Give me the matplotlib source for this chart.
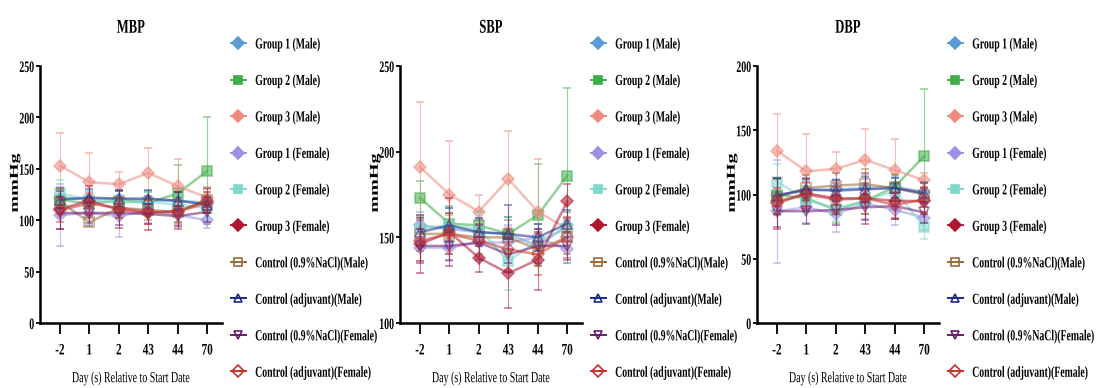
import matplotlib
matplotlib.use("Agg")
import matplotlib.pyplot as plt
from matplotlib.lines import Line2D
from matplotlib.patheffects import AbstractPathEffect
from matplotlib.transforms import Affine2D

plt.rcParams["font.family"] = ["Liberation Serif", "DejaVu Serif"]
plt.rcParams["font.weight"] = "bold"

DAYS = ["-2", "1", "2", "43", "44", "70"]

SERIES = [
    "Group 1 (Male)", "Group 2 (Male)", "Group 3 (Male)",
    "Group 1 (Female)", "Group 2 (Female)", "Group 3 (Female)",
    "Control (0.9%NaCl)(Male)", "Control (adjuvant)(Male)",
    "Control (0.9%NaCl)(Female)", "Control (adjuvant)(Female)",
]

# mean values per series, one value per day
MBP_MEAN = [
    [122, 120, 121, 119, 119, 117],
    [120, 116, 119, 117, 126, 148],
    [153, 137, 135, 146, 133, 122],
    [105, 107, 104, 109, 105, 100],
    [126, 120, 117, 118, 115, 112],
    [111, 119, 110, 107, 109, 119],
    [118, 98, 112, 110, 108, 120],
    [120, 122, 121, 121, 119, 115],
    [107, 107, 107, 106, 104, 108],
    [110, 116, 112, 108, 108, 117],
]
MBP_SD = [
    [10, 8, 8, 9, 8, 10],
    [10, 9, 9, 10, 28, 52],
    [32, 28, 12, 24, 27, 10],
    [30, 12, 20, 12, 12, 8],
    [13, 8, 8, 10, 10, 10],
    [20, 14, 18, 17, 18, 12],
    [12, 4, 10, 10, 10, 10],
    [8, 8, 8, 8, 8, 8],
    [16, 10, 12, 10, 10, 10],
    [12, 10, 10, 12, 12, 10],
]

SBP_MEAN = [
    [157, 155, 153, 152, 145, 157],
    [173, 158, 157, 152, 163, 186],
    [191, 175, 165, 184, 165, 155],
    [144, 144, 147, 147, 150, 143],
    [155, 157, 155, 136, 148, 155],
    [146, 153, 138, 129, 137, 171],
    [152, 152, 150, 150, 143, 150],
    [153, 157, 153, 152, 150, 158],
    [145, 145, 147, 140, 145, 145],
    [148, 152, 148, 143, 140, 150],
]
SBP_SD = [
    [8, 8, 8, 10, 8, 8],
    [10, 10, 8, 10, 30, 51],
    [38, 31, 10, 28, 31, 10],
    [8, 8, 8, 10, 8, 8],
    [8, 10, 10, 17, 10, 10],
    [17, 20, 8, 20, 18, 10],
    [10, 12, 10, 10, 10, 10],
    [8, 10, 8, 17, 8, 8],
    [10, 8, 10, 10, 10, 8],
    [12, 12, 10, 12, 12, 12],
]

DBP_MEAN = [
    [100, 103, 104, 105, 106, 102],
    [100, 97, 88, 95, 106, 130],
    [134, 118, 120, 127, 119, 111],
    [87, 90, 85, 93, 88, 82],
    [110, 96, 89, 95, 103, 75],
    [93, 101, 97, 97, 95, 95],
    [98, 105, 107, 108, 105, 100],
    [99, 104, 103, 104, 105, 101],
    [87, 87, 88, 90, 91, 86],
    [95, 100, 96, 97, 92, 96],
]
DBP_SD = [
    [12, 8, 8, 10, 8, 8],
    [12, 10, 10, 10, 10, 52],
    [29, 29, 13, 24, 24, 6],
    [40, 12, 14, 12, 12, 10],
    [14, 10, 10, 10, 10, 10],
    [20, 12, 12, 20, 14, 10],
    [14, 10, 10, 12, 10, 10],
    [14, 8, 8, 10, 8, 8],
    [12, 10, 12, 10, 10, 8],
    [10, 10, 10, 12, 10, 10],
]

COLORS = ["#5b9bd5", "#3fae49", "#f08a80", "#9d8fe3", "#7fd8cc",
          "#b0172f", "#9a6a3a", "#1d2a8c", "#6a1a6e", "#c8332b"]
MARKERS = ["D", "s", "D", "D", "s", "D", "s", "^", "v", "D"]
FILLED = [True] * 6 + [False] * 4


class Condense(AbstractPathEffect):
    # squeeze glyphs, the reference uses a narrow bold serif
    def __init__(self, sx=0.65, anchor="left", sy=1.0):
        super().__init__()
        self.sx = sx
        self.sy = sy
        self.anchor = anchor

    def draw_path(self, renderer, gc, tpath, affine, rgbFace=None):
        v = tpath.vertices
        if len(v) == 0:
            return
        xs, ys = v[:, 0], v[:, 1]
        if self.anchor == "center":
            x0 = (xs.min() + xs.max()) / 2
        elif self.anchor == "right":
            x0 = xs.max()
        else:
            x0 = xs.min()
        y0 = (ys.min() + ys.max()) / 2
        t = (Affine2D().translate(-x0, -y0).scale(self.sx, self.sy)
             .translate(x0, y0) + affine)
        renderer.draw_path(gc, tpath, t, rgbFace)


panels = [
    ("MBP", MBP_MEAN, MBP_SD, (0, 250), [0, 50, 100, 150, 200, 250], 40),
    ("SBP", SBP_MEAN, SBP_SD, (100, 250), [100, 150, 200, 250], 400),
    ("DBP", DBP_MEAN, DBP_SD, (0, 200), [0, 50, 100, 150, 200], 757),
]

W, H = 1097, 388
fig = plt.figure(figsize=(W / 100, H / 100), dpi=100)

x = list(range(len(DAYS)))
for title, means, sds, ylim, yticks, left_px in panels:
    ax = fig.add_axes([left_px / W, 1 - 323 / H, 182 / W, (323 - 66) / H])
    for i in range(len(SERIES)):
        c = COLORS[i]
        ax.errorbar(x, means[i], yerr=sds[i], color=c, ecolor=c, elinewidth=0.8,
                    capsize=3, capthick=0.8, alpha=0.55, lw=1.8,
                    marker=MARKERS[i], ms=6.5,
                    mfc=c if FILLED[i] else "none", mec=c, mew=1.2, zorder=2 + i)
    ax.set_xlim(-0.68, 5.5)
    ax.set_ylim(*ylim)
    ax.set_yticks(yticks)
    ax.set_xticks(x)
    ax.set_xticklabels(DAYS)
    for s in ["top", "right"]:
        ax.spines[s].set_visible(False)
    for s in ["left", "bottom"]:
        ax.spines[s].set_linewidth(1.8)
    ax.tick_params(axis="x", width=1.3, length=8, pad=6, labelsize=11.5)
    ax.tick_params(axis="y", width=1.3, length=3, pad=1, labelsize=11.5)
    for t in ax.get_xticklabels():
        t.set_path_effects([Condense(0.7, "center")])
    for t in ax.get_yticklabels():
        t.set_path_effects([Condense(0.62, "right")])

    ttl = ax.set_title(title, fontsize=14, fontweight="bold", pad=24)
    ttl.set_path_effects([Condense(0.65, "center")])
    yl = ax.set_ylabel("mmHg", fontsize=14.5, fontweight="bold")
    yl.set_verticalalignment("center")
    yl.set_path_effects([Condense(1.0, "center", sy=0.6)])
    ax.yaxis.set_label_coords(-0.14, 0.545)
    xl = ax.set_xlabel("Day (s) Relative to Start Date", fontsize=11)
    xl.set_path_effects([Condense(0.65, "center")])
    ax.xaxis.set_label_coords(0.5, -0.19)

    handles = [Line2D([0], [0], color=COLORS[i], marker=MARKERS[i], ms=6, lw=1.4,
                      mfc=COLORS[i] if FILLED[i] else "none", mec=COLORS[i], mew=1.2)
               for i in range(len(SERIES))]
    leg = fig.legend(handles, SERIES, loc="upper left",
                     bbox_to_anchor=((left_px + 177) / W, 1 - 24 / H),
                     frameon=False, fontsize=11, labelspacing=1.48,
                     handlelength=1.0, handletextpad=0.6)
    for t in leg.get_texts():
        t.set_path_effects([Condense(0.64, "left")])

fig.savefig("out.png", dpi=100)
